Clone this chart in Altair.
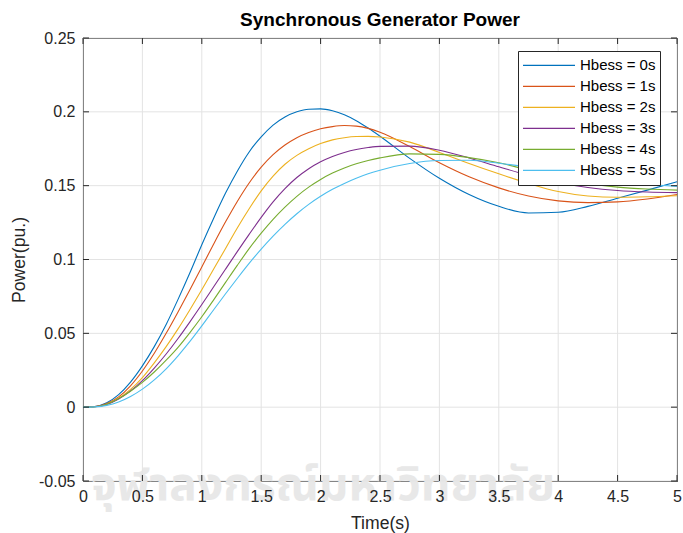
import altair as alt
import pandas as pd

# ---------------- data ----------------
time_s = [0, 0.1, 0.2, 0.3, 0.4, 0.5, 0.6, 0.7, 0.8, 0.9, 1.0, 1.1, 1.2, 1.3, 1.4, 1.5,
          1.6, 1.7, 1.8, 1.9, 2.0, 2.1, 2.2, 2.3, 2.4, 2.5, 2.75, 3.0, 3.25, 3.5, 3.75,
          4.0, 4.25, 4.5, 4.75, 5.0]

hbess_0s = [0, 0.0005, 0.003, 0.0085, 0.017, 0.028, 0.041, 0.056, 0.073, 0.091, 0.110,
            0.128, 0.145, 0.160, 0.173, 0.183, 0.191, 0.1965, 0.200, 0.2018, 0.202, 0.2007,
            0.198, 0.194, 0.189, 0.1835, 0.1685, 0.155, 0.144, 0.136, 0.1315, 0.132, 0.136,
            0.1415, 0.147, 0.1527]
hbess_1s = [0, 0.0004, 0.0025, 0.007, 0.0145, 0.0245, 0.0365, 0.050, 0.0645, 0.0795, 0.095,
            0.1105, 0.1255, 0.1395, 0.152, 0.1625, 0.171, 0.1775, 0.1825, 0.186, 0.1885,
            0.190, 0.1907, 0.1903, 0.1888, 0.1862, 0.1765, 0.1655, 0.156, 0.1485, 0.143,
            0.1397, 0.1385, 0.139, 0.141, 0.144]
hbess_2s = [0, 0.0003, 0.002, 0.006, 0.012, 0.020, 0.030, 0.041, 0.053, 0.066, 0.0795,
            0.0935, 0.1075, 0.1215, 0.1345, 0.1465, 0.1565, 0.1645, 0.1705, 0.175, 0.1785,
            0.181, 0.1825, 0.1833, 0.1834, 0.183, 0.1795, 0.1725, 0.165, 0.158, 0.1515,
            0.146, 0.143, 0.1422, 0.1425, 0.1432]
hbess_3s = [0, 0.0003, 0.0018, 0.0055, 0.011, 0.018, 0.0265, 0.036, 0.0465, 0.0578, 0.0695,
            0.0815, 0.0935, 0.1055, 0.1172, 0.1285, 0.139, 0.148, 0.1555, 0.1615, 0.1662,
            0.1698, 0.1725, 0.1745, 0.1758, 0.1766, 0.1768, 0.174, 0.1688, 0.1628, 0.157,
            0.1522, 0.1488, 0.1467, 0.1457, 0.1453]
hbess_4s = [0, 0.0003, 0.002, 0.0058, 0.0108, 0.0168, 0.0238, 0.0318, 0.0405, 0.0505, 0.0612,
            0.0727, 0.0845, 0.0962, 0.1075, 0.1178, 0.1272, 0.1355, 0.1428, 0.149, 0.1542,
            0.1585, 0.162, 0.1648, 0.167, 0.1688, 0.1715, 0.1712, 0.169, 0.1655, 0.1605,
            0.1555, 0.1515, 0.149, 0.1477, 0.147]
hbess_5s = [0, 0.0002, 0.0012, 0.0035, 0.0072, 0.0122, 0.0185, 0.026, 0.0348, 0.0445, 0.055,
            0.066, 0.0768, 0.0873, 0.0975, 0.107, 0.1158, 0.1238, 0.131, 0.1373, 0.1428,
            0.1475, 0.1515, 0.155, 0.158, 0.1605, 0.165, 0.167, 0.1672, 0.1652, 0.1625,
            0.1592, 0.156, 0.1532, 0.151, 0.1495]

series_names = ["Hbess = 0s", "Hbess = 1s", "Hbess = 2s",
                "Hbess = 3s", "Hbess = 4s", "Hbess = 5s"]
series_colors = ["#0072BD", "#D95319", "#EDB120", "#7E2F8E", "#77AC30", "#4DBEEE"]

x_ticks = [0, 0.5, 1, 1.5, 2, 2.5, 3, 3.5, 4, 4.5, 5]
y_ticks = [-0.05, 0, 0.05, 0.1, 0.15, 0.2, 0.25]

title_text = "Synchronous Generator Power"
x_title = "Time(s)"
y_title = "Power(pu.)"
watermark = ["จุฬาลงกรณ์มหาวิทยาลัย"]

# ---------------- table ----------------
all_series = [hbess_0s, hbess_1s, hbess_2s, hbess_3s, hbess_4s, hbess_5s]
rows = []
for name, vals in zip(series_names, all_series):
    for t, v in zip(time_s, vals):
        rows.append({"Time": t, "Power": v, "Series": name})
df = pd.DataFrame(rows)

W, H = 594, 443
FONT = "Liberation Sans"
AX = "#262626"
GRID = "#E3E3E3"

xscale = alt.Scale(domain=[0, 5], nice=False, zero=False)
yscale = alt.Scale(domain=[-0.05, 0.25], nice=False, zero=False)

x_axis = alt.Axis(values=x_ticks, title=x_title, labelExpr="datum.value + ''",
                  grid=False, domain=False, ticks=False, zindex=1,
                  labelFont=FONT, labelFontSize=16, labelColor=AX, labelPadding=7,
                  titleFont=FONT, titleFontSize=17.6, titleFontWeight="normal",
                  titleColor=AX, titlePadding=10, labelFlush=False)
y_axis = alt.Axis(values=y_ticks, title=y_title, labelExpr="datum.value + ''",
                  grid=False, domain=False, ticks=False, zindex=1,
                  labelFont=FONT, labelFontSize=16, labelColor=AX, labelPadding=8,
                  titleFont=FONT, titleFontSize=17.6, titleFontWeight="normal",
                  titleColor=AX, titlePadding=10, labelFlush=False)

xt = pd.DataFrame({"Time": x_ticks})
yt = pd.DataFrame({"Power": y_ticks})

grid_v = alt.Chart(xt).mark_rule(color=GRID, strokeWidth=1).encode(
    x=alt.X("Time:Q", scale=xscale, axis=x_axis), y=alt.value(0), y2=alt.value(H))
grid_h = alt.Chart(yt).mark_rule(color=GRID, strokeWidth=1).encode(
    y=alt.Y("Power:Q", scale=yscale, axis=y_axis), x=alt.value(0), x2=alt.value(W))

lines = alt.Chart(df).mark_line(strokeWidth=1.1, interpolate="monotone").encode(
    x=alt.X("Time:Q", scale=xscale, axis=x_axis),
    y=alt.Y("Power:Q", scale=yscale, axis=y_axis),
    color=alt.Color("Series:N",
                    scale=alt.Scale(domain=series_names, range=series_colors),
                    legend=alt.Legend(title=None, orient="none", legendX=435, legendY=13,
                                      symbolType="stroke", symbolSize=2704,
                                      symbolStrokeWidth=1.3, clipHeight=20.8, rowPadding=0,
                                      labelFont=FONT, labelFontSize=15, labelColor="black",
                                      labelOffset=4, padding=4, strokeColor=AX,
                                      fillColor="white", cornerRadius=0, zindex=2)),
)

tick_bottom = alt.Chart(xt).mark_rule(color=AX, strokeWidth=1).encode(
    x=alt.X("Time:Q", scale=xscale, axis=x_axis), y=alt.value(H), y2=alt.value(H - 6))
tick_top = alt.Chart(xt).mark_rule(color=AX, strokeWidth=1).encode(
    x=alt.X("Time:Q", scale=xscale, axis=x_axis), y=alt.value(0), y2=alt.value(6))
tick_left = alt.Chart(yt).mark_rule(color=AX, strokeWidth=1).encode(
    y=alt.Y("Power:Q", scale=yscale, axis=y_axis), x=alt.value(0), x2=alt.value(6))
tick_right = alt.Chart(yt).mark_rule(color=AX, strokeWidth=1).encode(
    y=alt.Y("Power:Q", scale=yscale, axis=y_axis), x=alt.value(W), x2=alt.value(W - 6))

wm = alt.Chart(pd.DataFrame({"w": watermark})).mark_text(
    align="left", baseline="alphabetic", fontSize=46, fontWeight="bold",
    font="Noto Sans Thai, Noto Sans, DejaVu Sans", color="#E8E8E8"
).encode(text="w:N", x=alt.value(8), y=alt.value(462))

chart = alt.layer(wm, grid_v, grid_h, lines, tick_bottom, tick_top, tick_left,
                  tick_right).properties(
    width=W, height=H,
    autosize="none",
    padding={"left": 83, "top": 38, "right": 6, "bottom": 52},
    title=alt.Title(title_text, font=FONT, fontSize=19, fontWeight="bold",
                    color="black", anchor="middle", offset=0),
    background="white",
).configure_view(stroke=AX, strokeWidth=1)

chart.save("out.html", embed_options={"renderer": "svg", "actions": False})
